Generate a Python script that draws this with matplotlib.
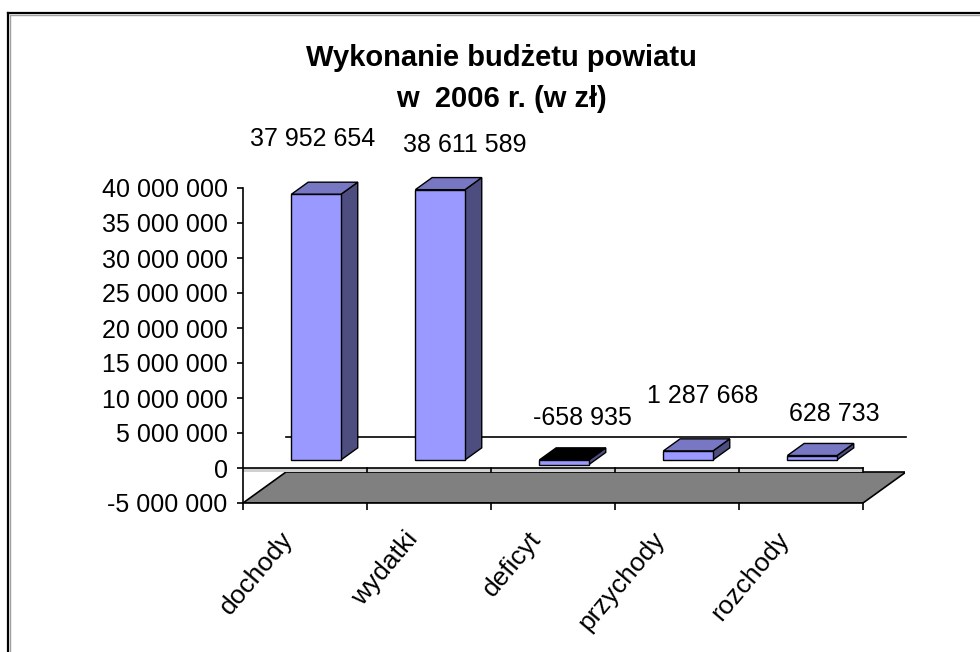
import numpy as np
import matplotlib
matplotlib.use("Agg")
import matplotlib.pyplot as plt
from matplotlib.patches import Polygon
from matplotlib.lines import Line2D

# data
categories = ["dochody", "wydatki", "deficyt", "przychody", "rozchody"]
values = [37952654, 38611589, -658935, 1287668, 628733]
labels = ["37 952 654", "38 611 589", "-658 935", "1 287 668", "628 733"]
yticks = np.arange(-5000000, 40000001, 5000000)
# manual label offsets in pixels (Excel labels were moved by hand)
label_offsets = [(8, 63), (36, 53), (29, 50), (26, 63), (33, 50)]

fnt = ["Liberation Sans", "DejaVu Sans"]
fs = 18

W, H = 980, 652
fig = plt.figure(figsize=(W / 100, H / 100), dpi=100)

# axes placed so the category axis runs 243..905 px and values 188..503 px
x0_px, x1_px, ytop_px, ybot_px = 243, 905, 188, 503
ax = fig.add_axes([x0_px / W, 1 - ybot_px / H, (x1_px - x0_px) / W, (ybot_px - ytop_px) / H])
ax.set_xlim(-0.5, -0.5 + (x1_px - x0_px) / 124)
ax.set_ylim(-5e6, 40e6)
ax.patch.set_alpha(0)

# depth of the 3d box (in data units)
DX = 43 / 124
DY = 31 / 7 * 1e6
f0, f1 = 0.26, 0.65     # front/back of the bars inside the depth
bw = 0.40

front_c, side_c, top_c = "#9999ff", "#4d4d80", "#7777c4"

# floor
ymin = -5e6
floor = Polygon([(-0.5, ymin), (4.5, ymin), (4.5 + DX, ymin + DY), (-0.5 + DX, ymin + DY)],
                closed=True, facecolor="#808080", edgecolor="black", lw=1.2, zorder=1)
ax.add_patch(floor)
# thin band between the floor and the zero line
band = Polygon([(-0.5, 0), (4.5, 0), (4.5, ymin + DY), (-0.5, ymin + DY)],
               closed=True, facecolor="#d0d0d0", edgecolor="none", zorder=1.5)
ax.add_patch(band)
# zero line on the front and on the back wall
ax.plot([-0.5, 4.5], [0, 0], color="black", lw=1.2, zorder=2)
for b in np.arange(0.5, 4.6, 1):
    ax.plot([b, b], [0, -0.55e6], color="black", lw=1.2, zorder=2)
ax.plot([-0.5 + DX, 4.5 + DX], [DY, DY], color="black", lw=1.2, zorder=2, clip_on=False)

# bars
for i, v in enumerate(values):
    xa = i - bw / 2 + f0 * DX
    xb = xa + bw
    ddx = (f1 - f0) * DX
    ddy = (f1 - f0) * DY
    base = f0 * DY
    lo, hi = min(v, 0) + base, max(v, 0) + base
    tc = "black" if v < 0 else top_c
    ax.add_patch(Polygon([(xb, lo), (xb, hi), (xb + ddx, hi + ddy), (xb + ddx, lo + ddy)],
                         facecolor=side_c, edgecolor="black", lw=1.0, zorder=3 + i, clip_on=False))
    ax.add_patch(Polygon([(xa, hi), (xb, hi), (xb + ddx, hi + ddy), (xa + ddx, hi + ddy)],
                         facecolor=tc, edgecolor="black", lw=1.0, zorder=3 + i, clip_on=False))
    ax.add_patch(Polygon([(xa, lo), (xb, lo), (xb, hi), (xa, hi)],
                         facecolor=front_c, edgecolor="black", lw=1.0, zorder=3 + i, clip_on=False))
    ox, oy = label_offsets[i]
    ax.annotate(labels[i], xy=(i, max(v, 0)), xytext=(ox, oy), textcoords="offset pixels",
                ha="center", va="center", fontsize=fs, family=fnt, color="black",
                annotation_clip=False)

# axes styling
for s in ["top", "right"]:
    ax.spines[s].set_visible(False)
ax.spines["left"].set_linewidth(1.2)
ax.spines["bottom"].set_linewidth(1.2)
ax.spines["bottom"].set_bounds(-0.5, 4.5)
ax.set_yticks(yticks)
ax.set_yticklabels([f"{t:,.0f}".replace(",", " ") for t in yticks], family=fnt, fontsize=fs)
ax.tick_params(axis="y", direction="out", length=4, width=1.2, pad=7)
ax.set_xticks(np.arange(-0.5, 4.6, 1))
ax.set_xticklabels([])
ax.tick_params(axis="x", direction="out", length=5, width=1.2)
for i, c in enumerate(categories):
    ax.annotate(c, xy=(i, ymin), xytext=(-16, -32), textcoords="offset pixels",
                rotation=50, rotation_mode="anchor", ha="right", va="center",
                fontsize=fs + 1, family=fnt, annotation_clip=False)

# title
fig.text(501 / W, 1 - 58 / H, "Wykonanie budżetu powiatu", ha="center", va="center",
         fontsize=21, fontweight="bold", family=fnt)
fig.text(501 / W, 1 - 99 / H, "w  2006 r. (w zł)", ha="center", va="center",
         fontsize=21, fontweight="bold", family=fnt)

# outer frame of the chart area
fig.add_artist(Line2D([8 / W, 8 / W], [0, 1 - 13 / H], color="black", lw=1.6))
fig.add_artist(Line2D([8 / W, 1], [1 - 13 / H, 1 - 13 / H], color="black", lw=1.6))
fig.add_artist(Line2D([10 / W, 10 / W], [0, 1 - 15 / H], color="#a0a0a0", lw=1))
fig.add_artist(Line2D([10 / W, 1], [1 - 15 / H, 1 - 15 / H], color="#a0a0a0", lw=1))

plt.savefig("out.png", dpi=100)
